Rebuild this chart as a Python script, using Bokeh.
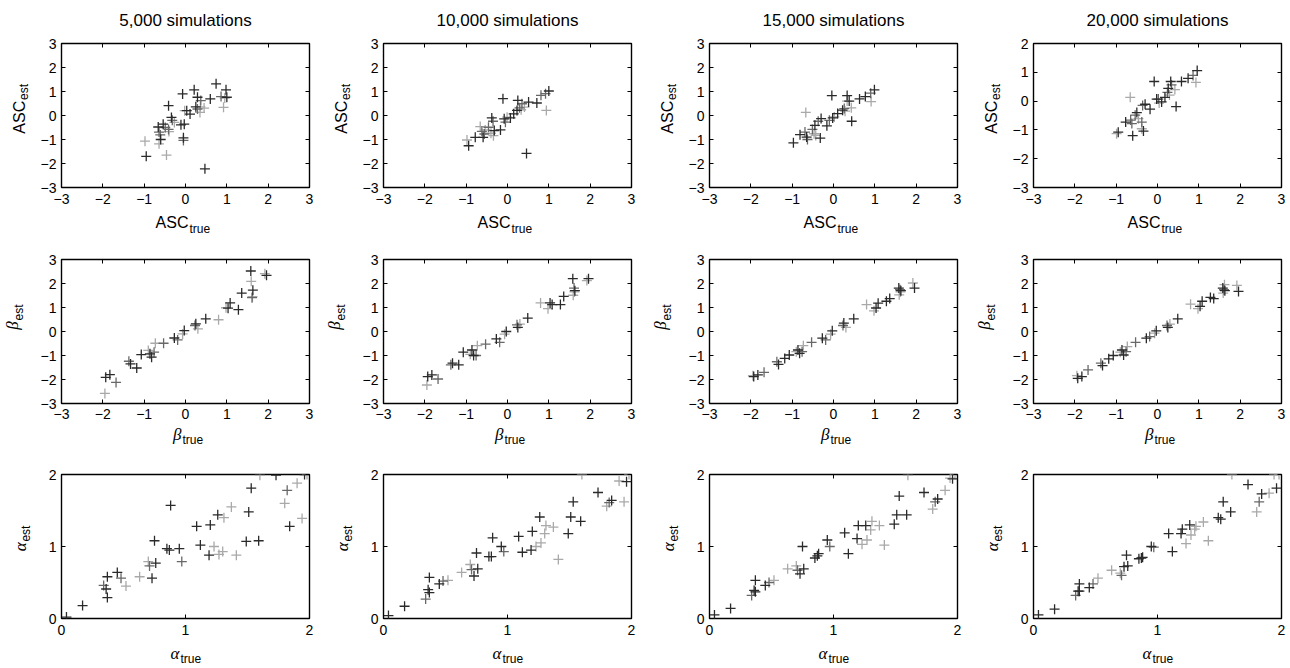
import math
from bokeh.plotting import figure
from bokeh.models import Range1d, FixedTicker, LinearAxis, Label
from bokeh.layouts import column, row
from bokeh.embed import file_html
from bokeh.resources import INLINE

# ---------------- data ----------------
titles = ["5,000 simulations", "10,000 simulations", "15,000 simulations", "20,000 simulations"]

# Row 1: ASC (per panel: true, estimate, shade d=dark m=mid l=light)
asc_true_5k = [-0.98, -0.95, -0.66, -0.64, -0.61, -0.64, -0.60, -0.54, -0.49, -0.46, -0.41, -0.41, -0.40, -0.34,
               -0.32, -0.27, -0.11, -0.03, -0.07, -0.05, -0.05, -0.02, 0.03, 0.11, 0.21, 0.25, 0.29, 0.29, 0.36,
               0.37, 0.35, 0.47, 0.45, 0.60, 0.74, 0.86, 0.92, 0.98, 0.95, 1.00]
asc_est_5k = [-1.07, -1.70, -0.48, -0.69, -0.81, -1.18, -1.00, -0.36, -0.50, -1.65, 0.41, -0.58, -0.67, -0.08,
              -0.20, -0.29, -0.39, -0.36, 0.90, -0.93, -1.04, 0.20, 0.20, 0.06, 1.07, 0.36, 0.76, 0.27, 0.36,
              0.62, 0.13, -2.22, 0.31, 0.69, 1.32, 0.79, 0.34, 1.07, 0.73, 0.76]
asc_shade_5k = "lddmmlddml" "dmldmldddd" "mldddddmlm" "ldlddmldld"

asc_true_10k = [-0.98, -0.94, -0.78, -0.66, -0.62, -0.59, -0.56, -0.54, -0.46, -0.40, -0.38, -0.35, -0.34, -0.32,
                -0.17, -0.11, -0.08, -0.05, -0.01, 0.07, 0.15, 0.23, 0.25, 0.29, 0.33, 0.35, 0.46, 0.41, 0.51,
                0.71, 0.81, 0.94, 1.00, 0.92]
asc_est_10k = [-1.02, -1.26, -0.91, -0.46, -0.66, -0.91, -0.77, -0.60, -0.49, -0.74, -0.10, -0.24, -0.84, -0.63,
               -0.60, 0.70, -0.14, -0.28, -0.07, -0.10, 0.07, 0.21, 0.63, 0.32, 0.24, 0.49, -1.58, 0.35, 0.56,
               0.52, 0.84, 0.21, 1.02, 0.91]
asc_shade_10k = "lddlmdmlml" "dmlddddmld" "dddmlmdldd" "mldm"

asc_true_15k = [-0.97, -0.81, -0.69, -0.67, -0.65, -0.63, -0.51, -0.47, -0.45, -0.43, -0.37, -0.32, -0.30, -0.16,
                -0.10, -0.04, -0.02, 0.02, 0.10, 0.22, 0.26, 0.28, 0.33, 0.33, 0.38, 0.43, 0.44, 0.63, 0.77,
                0.90, 0.91, 0.99]
asc_est_15k = [-1.14, -0.80, -0.69, 0.13, -0.90, -1.00, -0.58, -0.76, -0.41, -0.83, -0.24, -0.94, -0.13, -0.43,
               -0.20, 0.83, -0.10, -0.06, 0.08, 0.22, 0.29, 0.18, 0.83, 0.60, 0.60, 0.32, -0.24, 0.69, 0.79,
               0.93, 0.58, 1.07]
asc_shade_15k = "ddmldmmldl" "mdddmddldd" "mldldldddm" "ld"

asc_true_20k = [-0.99, -0.95, -0.77, -0.66, -0.65, -0.62, -0.60, -0.54, -0.50, -0.46, -0.38, -0.38, -0.36, -0.34,
                -0.30, -0.18, -0.08, -0.02, 0.02, 0.04, 0.10, 0.18, 0.24, 0.26, 0.29, 0.32, 0.34, 0.42, 0.45,
                0.58, 0.74, 0.86, 0.93, 0.96]
asc_est_20k = [-1.13, -1.08, -0.73, 0.13, -0.66, -0.78, -1.20, -0.49, -0.40, -0.61, -0.96, -0.73, -0.15, -1.04,
               -0.11, -0.28, 0.68, 0.07, 0.07, -0.07, -0.03, 0.13, 0.30, 0.44, 0.21, 0.68, 0.56, 0.40, -0.19,
               0.68, 0.79, 0.89, 0.65, 1.06]
asc_shade_20k = "lddlmmdmdl" "lmmdddddml" "ddmdldmldd" "dmld"

# Row 2: beta (true values shared by all four runs)
beta_true = [-1.95, -1.93, -1.83, -1.68, -1.37, -1.33, -1.18, -1.07, -0.90, -0.86, -0.82, -0.76, -0.73, -0.53,
             -0.27, -0.19, -0.03, -0.07, 0.23, 0.25, 0.30, 0.49, 0.80, 0.98, 1.03, 1.08, 1.28, 1.36, 1.58, 1.59,
             1.62, 1.61, 1.63, 1.92, 1.96]
beta_shade = "lddmmdddld" "dmlmdmdlmd" "ldlldddddl" "lmdld"
beta_est_5k = [-2.58, -1.91, -1.80, -2.12, -1.24, -1.35, -1.52, -0.96, -0.79, -0.93, -1.07, -0.86, -0.49, -0.49,
               -0.27, -0.35, 0.04, -0.10, 0.25, 0.32, 0.11, 0.53, 0.49, 0.99, 0.97, 1.19, 0.91, 1.60, 2.52, 2.09,
               1.45, 1.41, 1.72, 2.41, 2.34]
beta_est_10k = [-2.23, -1.88, -1.81, -1.98, -1.39, -1.32, -1.39, -0.86, -0.95, -0.77, -1.00, -1.00, -0.59, -0.53,
                -0.31, -0.45, 0.00, -0.11, 0.28, 0.17, 0.31, 0.56, 1.19, 0.95, 1.19, 1.12, 1.12, 1.46, 2.20, 1.51,
                1.65, 1.81, 1.70, 2.12, 2.20]
beta_est_15k = [-1.84, -1.88, -1.81, -1.70, -1.26, -1.37, -1.12, -0.98, -0.84, -0.77, -0.91, -0.84, -0.59, -0.45,
                -0.28, -0.35, 0.03, -0.11, 0.25, 0.35, 0.17, 0.53, 1.12, 0.86, 0.98, 1.18, 1.26, 1.37, 1.81, 1.53,
                1.65, 1.74, 1.70, 2.02, 1.81]
beta_est_20k = [-1.84, -1.95, -1.88, -1.60, -1.32, -1.42, -1.14, -1.00, -0.86, -0.77, -0.98, -0.84, -0.63, -0.45,
                -0.28, -0.21, 0.03, -0.07, 0.25, 0.17, 0.31, 0.53, 1.14, 0.95, 1.05, 1.26, 1.42, 1.37, 1.81, 1.60,
                1.95, 1.74, 1.70, 1.92, 1.67]

# Row 3: alpha (true values shared by all four runs)
alpha_true = [0.04, 0.17, 0.34, 0.36, 0.37, 0.37, 0.45, 0.48, 0.52, 0.63, 0.70, 0.71, 0.73, 0.75, 0.76, 0.85, 0.87,
              0.88, 0.95, 0.97, 1.09, 1.12, 1.19, 1.20, 1.23, 1.26, 1.27, 1.30, 1.31, 1.37, 1.41, 1.49, 1.51, 1.53,
              1.59, 1.60, 1.73, 1.80, 1.82, 1.84, 1.90, 1.94, 1.96, 1.98]
alpha_shade = "ddmddddmll" "lmdddddddm" "ddddldllll" "lddddldlmd" "lldl"
alpha_est_5k = [0.02, 0.18, 0.46, 0.41, 0.58, 0.29, 0.64, 0.56, 0.45, 0.58, 0.79, 0.73, 0.56, 1.08, 0.77, 0.97,
                0.95, 1.57, 0.97, 0.79, 1.28, 1.02, 0.88, 1.30, 1.00, 1.44, 0.89, 0.93, 1.40, 1.55, 0.88, 1.07,
                1.48, 1.81, 1.08, 1.99, 1.99, 1.60, 1.78, 1.28, 1.88, 1.39, 2.00, 2.00]
alpha_est_10k = [0.04, 0.17, 0.27, 0.40, 0.57, 0.36, 0.48, 0.52, 0.53, 0.64, 0.75, 0.68, 0.59, 0.91, 0.69, 0.86,
                 0.86, 1.12, 1.00, 0.93, 1.14, 0.92, 0.95, 1.21, 1.00, 1.41, 1.05, 1.18, 1.29, 1.27, 0.82, 1.18,
                 1.41, 1.62, 1.35, 2.00, 1.75, 1.56, 1.61, 1.64, 1.91, 1.62, 1.90, 2.00]
alpha_est_15k = [0.05, 0.14, 0.32, 0.39, 0.53, 0.37, 0.46, 0.50, 0.53, 0.69, 0.73, 0.67, 0.62, 1.00, 0.69, 0.84,
                 0.87, 0.90, 1.09, 1.00, 1.19, 0.90, 1.11, 1.29, 1.03, 1.29, 1.09, 1.23, 1.35, 1.29, 1.02, 1.31,
                 1.44, 1.70, 1.44, 1.99, 1.75, 1.52, 1.62, 1.66, 1.78, 1.95, 1.94, 2.00]
alpha_est_20k = [0.05, 0.13, 0.32, 0.38, 0.48, 0.38, 0.43, 0.48, 0.56, 0.67, 0.63, 0.60, 0.72, 0.88, 0.73, 0.83,
                 0.84, 0.85, 1.00, 0.99, 1.18, 0.93, 1.18, 1.24, 1.04, 1.30, 1.16, 1.24, 1.28, 1.34, 1.08, 1.40,
                 1.38, 1.62, 1.48, 2.00, 1.86, 1.48, 1.62, 1.73, 1.74, 2.00, 1.81, 2.00]

ticks_pm3 = [-3, -2, -1, 0, 1, 2, 3]
ticks_asc20 = [-3, -2, -1, 0, 1, 2]
ticks_02 = [0, 1, 2]

# ---------------- style / layout ----------------
SANS = "Liberation Sans"
SERIF = "Liberation Serif"
SHADE = {"d": "#2a2a2a", "m": "#686868", "l": "#a9a9a9"}

FRAME_W = 248
FRAME_H = 144
STRIP_W = [35, 35, 38, 39]          # y-label strip left of each panel
MAIN_W = [287, 288, 285, 281]       # panel figure widths (left border + frame + right border)
MAIN_BL = 26
MAIN_BT = 10
ROW_BB = [22, 21, 22]               # bottom border of the panel figures, per row
ROW_XSTAND = [6, 5, 6]              # x tick-label standoff, per row
TOTAL_W = sum(STRIP_W) + sum(MAIN_W)
TITLE_H = 33
XLAB_H = [40, 40, 27]

FRAME_CX = []
_x = 0
for c in range(4):
    _x += STRIP_W[c]
    FRAME_CX.append(_x + MAIN_BL + FRAME_W / 2)
    _x += MAIN_W[c]


def comp(px):
    # alphabetic-baseline correction observed in rendering
    return 0.4 * px


def fmt(t):
    return "\u2212%g" % abs(t) if t < 0 else "%g" % t


def style_axis(ax, ticks, show_labels=True, standoff=5):
    ax.ticker = FixedTicker(ticks=ticks)
    ax.major_tick_in = 4
    ax.major_tick_out = 0
    ax.major_tick_line_color = "black"
    ax.major_tick_line_width = 1
    ax.minor_tick_line_color = None
    ax.axis_line_color = None
    if show_labels:
        ax.major_label_text_font = SANS
        ax.major_label_text_font_size = "14px"
        ax.major_label_text_color = "black"
        ax.major_label_standoff = standoff
        ax.major_label_overrides = {t: fmt(t) for t in ticks}
    else:
        ax.major_label_text_font_size = "0px"
        ax.major_label_standoff = 0
        ax.major_label_overrides = {t: "" for t in ticks}


def strip(w, h):
    s = figure(width=w, height=h, x_range=Range1d(0, w), y_range=Range1d(0, h), output_backend="svg",
               toolbar_location=None, tools="", min_border=0, x_axis_location=None, y_axis_location=None)
    s.grid.visible = False
    s.outline_line_color = None
    s.background_fill_color = "white"
    s.border_fill_color = "white"
    return s


def main_font(greek):
    return (SERIF, 17, "italic") if greek else (SANS, 16, "normal")


SUB_PX = 12


def xlabel_strip(h, main, sub, greek, base, drop, shift):
    s = strip(TOTAL_W, h)
    font, size, style = main_font(greek)
    for c in range(4):
        px = FRAME_CX[c] + shift
        s.add_layout(Label(x=px, y=base + comp(size), text=main, text_font=font, text_font_size="%dpx" % size,
                           text_font_style=style, text_align="right", text_baseline="alphabetic",
                           text_color="black"))
        s.add_layout(Label(x=px + 1, y=base - drop + comp(SUB_PX), text=sub, text_font=SANS,
                           text_font_size="%dpx" % SUB_PX, text_align="left", text_baseline="alphabetic",
                           text_color="black"))
    return s


def ylabel_strip(r, c, main, sub, greek, inset, drop, dy):
    w = STRIP_W[c]
    h = MAIN_BT + FRAME_H + ROW_BB[r]
    py = ROW_BB[r] + FRAME_H / 2 + dy
    s = strip(w, h)
    font, size, style = main_font(greek)
    bx = w + MAIN_BL - inset
    s.add_layout(Label(x=bx - comp(size), y=py, angle=math.pi / 2, text=main, text_font=font,
                       text_font_size="%dpx" % size, text_font_style=style, text_align="right",
                       text_baseline="alphabetic", text_color="black"))
    s.add_layout(Label(x=bx + drop - comp(SUB_PX), y=py + 1, angle=math.pi / 2, text=sub, text_font=SANS,
                       text_font_size="%dpx" % SUB_PX, text_align="left", text_baseline="alphabetic",
                       text_color="black"))
    return s


def panel(r, c, xs, ys, shades, xr, yr, xticks, yticks):
    w = MAIN_W[c]
    br = w - MAIN_BL - FRAME_W
    h = MAIN_BT + FRAME_H + ROW_BB[r]
    p = figure(width=w, height=h, x_range=Range1d(*xr), y_range=Range1d(*yr), output_backend="svg",
               toolbar_location=None, tools="", min_border_left=MAIN_BL, min_border_right=br,
               min_border_top=MAIN_BT, min_border_bottom=ROW_BB[r])
    p.grid.visible = False
    p.outline_line_color = "black"
    p.outline_line_width = 1.4
    p.background_fill_color = "white"
    p.border_fill_color = "white"
    style_axis(p.xaxis[0], xticks, standoff=ROW_XSTAND[r])
    style_axis(p.yaxis[0], yticks, standoff=5)
    top = LinearAxis()
    style_axis(top, xticks, show_labels=False)
    p.add_layout(top, "above")
    right = LinearAxis()
    style_axis(right, yticks, show_labels=False)
    p.add_layout(right, "right")

    for code in "lmd":
        idx = [i for i, s in enumerate(shades) if s == code]
        p.scatter([xs[i] for i in idx], [ys[i] for i in idx], marker="cross", size=10,
                  line_color=SHADE[code], line_width=1.3)
    return p


asc_sets = [(asc_true_5k, asc_est_5k, asc_shade_5k), (asc_true_10k, asc_est_10k, asc_shade_10k),
            (asc_true_15k, asc_est_15k, asc_shade_15k), (asc_true_20k, asc_est_20k, asc_shade_20k)]
beta_sets = [beta_est_5k, beta_est_10k, beta_est_15k, beta_est_20k]
alpha_sets = [alpha_est_5k, alpha_est_10k, alpha_est_15k, alpha_est_20k]

row1, row2, row3 = [], [], []
for c in range(4):
    xs, ys, sh = asc_sets[c]
    row1.append(ylabel_strip(0, c, "ASC", "est", False, 36, 3, 12))
    if c == 3:
        row1.append(panel(0, c, xs, ys, sh, (-3, 3), (-3, 2), ticks_pm3, ticks_asc20))
    else:
        row1.append(panel(0, c, xs, ys, sh, (-3, 3), (-3, 3), ticks_pm3, ticks_pm3))
    row2.append(ylabel_strip(1, c, "\u03b2", "est", True, 42, 4, 7))
    row2.append(panel(1, c, beta_true, beta_sets[c], beta_shade, (-3, 3), (-3, 3), ticks_pm3, ticks_pm3))
    row3.append(ylabel_strip(2, c, "\u03b1", "est", True, 34, 3, -1))
    row3.append(panel(2, c, alpha_true, alpha_sets[c], alpha_shade, (0, 2), (0, 2), ticks_02, ticks_02))

# column titles
title_strip = strip(TOTAL_W, TITLE_H)
for c in range(4):
    title_strip.add_layout(Label(x=FRAME_CX[c], y=6 + comp(17), text=titles[c], text_font=SANS,
                                 text_font_size="17px", text_align="center", text_baseline="alphabetic",
                                 text_color="black"))

xlab1 = xlabel_strip(XLAB_H[0], "ASC", "true", False, 21, 5, 3)
xlab2 = xlabel_strip(XLAB_H[1], "\u03b2", "true", True, 23, 3, -4)
xlab3 = xlabel_strip(XLAB_H[2], "\u03b1", "true", True, 7, 3, -6)

layout = column(title_strip, row(*row1), xlab1, row(*row2), xlab2, row(*row3), xlab3)
open("out.html", "w").write(file_html(layout, INLINE))
